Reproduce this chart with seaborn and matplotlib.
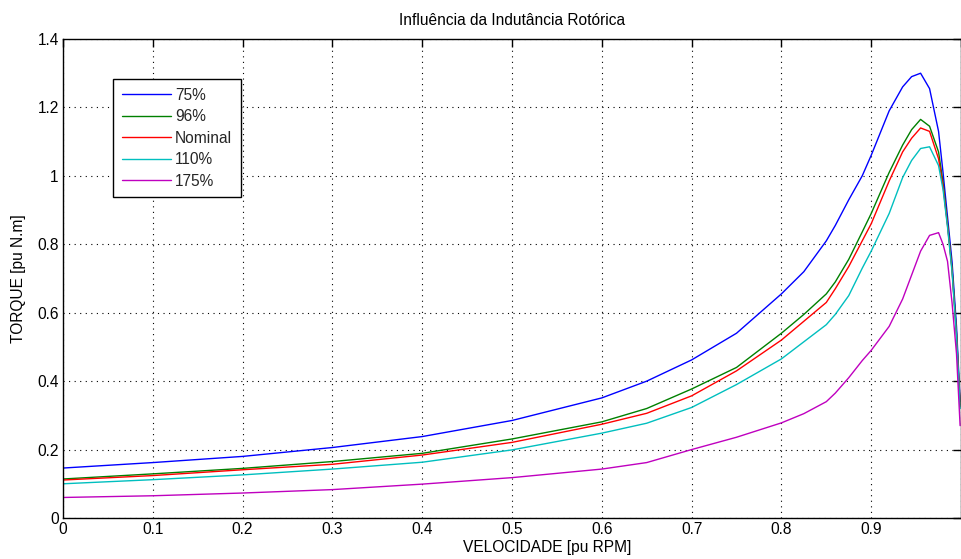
import numpy as np
import pandas as pd
import matplotlib
matplotlib.use("Agg")
import matplotlib.pyplot as plt
import seaborn as sns

speed = [0.0, 0.1, 0.2, 0.3, 0.4, 0.5, 0.6, 0.65, 0.7, 0.75, 0.8, 0.825, 0.85,
         0.86, 0.875, 0.89, 0.9, 0.92, 0.935, 0.945, 0.955, 0.965, 0.975, 0.98,
         0.985, 0.99, 0.995, 0.999]

torque_75 = [0.146, 0.162, 0.180, 0.206, 0.238, 0.285, 0.351, 0.400, 0.462,
             0.540, 0.655, 0.720, 0.810, 0.855, 0.930, 1.000, 1.060, 1.190,
             1.260, 1.290, 1.300, 1.255, 1.130, 1.010, 0.880, 0.750, 0.560,
             0.340]
torque_96 = [0.114, 0.129, 0.145, 0.165, 0.189, 0.231, 0.281, 0.320, 0.377,
             0.440, 0.540, 0.595, 0.655, 0.690, 0.756, 0.836, 0.890, 1.010,
             1.090, 1.135, 1.165, 1.145, 1.070, 0.980, 0.860, 0.730, 0.540,
             0.330]
torque_nom = [0.111, 0.124, 0.141, 0.157, 0.184, 0.221, 0.274, 0.306, 0.357,
              0.430, 0.520, 0.575, 0.630, 0.670, 0.735, 0.810, 0.860, 0.985,
              1.070, 1.110, 1.140, 1.130, 1.050, 0.970, 0.855, 0.725, 0.535,
              0.325]
torque_110 = [0.100, 0.112, 0.126, 0.143, 0.163, 0.199, 0.248, 0.277, 0.323,
              0.390, 0.465, 0.515, 0.565, 0.595, 0.650, 0.730, 0.780, 0.890,
              0.995, 1.045, 1.080, 1.085, 1.030, 0.960, 0.850, 0.720, 0.530,
              0.320]
torque_175 = [0.060, 0.065, 0.073, 0.083, 0.099, 0.118, 0.143, 0.162, 0.200,
              0.236, 0.278, 0.305, 0.340, 0.365, 0.410, 0.460, 0.490, 0.560,
              0.640, 0.710, 0.780, 0.826, 0.834, 0.800, 0.750, 0.630, 0.480,
              0.270]

labels = ["75%", "96%", "Nominal", "110%", "175%"]
colors = ["#0000ff", "#008000", "#ff0000", "#00bfbf", "#bf00bf"]

title = "Influência da Indutância Rotórica"
xlabel = "VELOCIDADE [pu RPM]"
ylabel = "TORQUE [pu N.m]"
xticks = [0, 0.1, 0.2, 0.3, 0.4, 0.5, 0.6, 0.7, 0.8, 0.9, 1.0]
xticklabels = ["0", "0.1", "0.2", "0.3", "0.4", "0.5", "0.6", "0.7", "0.8", "0.9", ""]
yticks = [0, 0.2, 0.4, 0.6, 0.8, 1.0, 1.2, 1.4]
yticklabels = ["0", "0.2", "0.4", "0.6", "0.8", "1", "1.2", "1.4"]

series = [torque_75, torque_96, torque_nom, torque_110, torque_175]
df = pd.concat([
    pd.DataFrame({"speed": speed, "torque": s, "case": lab})
    for s, lab in zip(series, labels)
], ignore_index=True)

sns.set_style("white")
plt.rcParams["font.family"] = ["Liberation Sans", "DejaVu Sans"]

FS = 11.2

fig = plt.figure(figsize=(9.61, 5.59), dpi=100)
ax = fig.add_axes([63 / 961, 1 - 518 / 559, 1 - 63 / 961, (518 - 39) / 559])

sns.lineplot(data=df, x="speed", y="torque", hue="case", hue_order=labels,
             palette=colors, linewidth=1.0, ax=ax, sort=False, legend=True)

ax.set_xlim(0, 1)
ax.set_ylim(0, 1.4)
ax.set_xticks(xticks)
ax.set_xticklabels(xticklabels)
ax.set_yticks(yticks)
ax.set_yticklabels(yticklabels)
ax.grid(True, color="black", linestyle=(0, (1, 4)), linewidth=0.8)
ax.tick_params(direction="in", length=6, width=1, top=True, right=True,
               labelsize=FS, colors="black", pad=3)
for sp in ax.spines.values():
    sp.set_color("black")
    sp.set_linewidth(1.0)
ax.set_title(title, fontsize=FS, pad=10, color="black")
ax.set_xlabel(xlabel, fontsize=FS, labelpad=3, color="black")
ax.xaxis.set_label_coords((547 - 63) / 898, -0.045)
ax.set_ylabel(ylabel, fontsize=FS, labelpad=8, color="black")

handles, _ = ax.get_legend_handles_labels()
leg = ax.legend(handles=handles, labels=labels, loc="upper left",
                bbox_to_anchor=((113 - 63) / 898, (518 - 79) / 479),
                frameon=True, fancybox=False, shadow=False, fontsize=FS,
                handlelength=3.15, handletextpad=0.3, labelspacing=0.42,
                borderpad=0.55, borderaxespad=0)
leg.get_frame().set_edgecolor("black")
leg.get_frame().set_linewidth(1.0)
leg.get_frame().set_alpha(1)

fig.savefig("out.png", dpi=100)
